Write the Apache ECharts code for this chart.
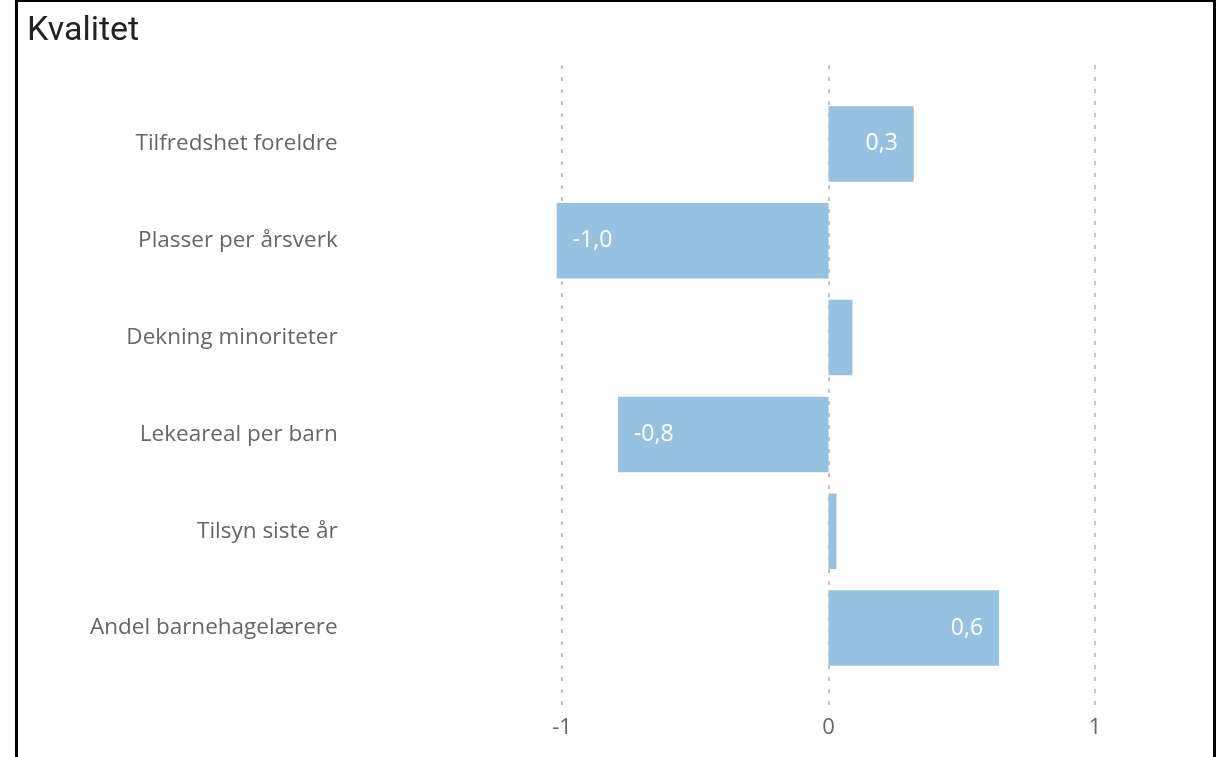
<!DOCTYPE html>
<html><head><meta charset="utf-8">
<script src="https://cdn.jsdelivr.net/npm/echarts@6/dist/echarts.min.js"></script>
<style>html,body{margin:0;padding:0;background:#fff;}#c{width:1226px;height:757px;}</style>
</head><body><div id="c"></div>
<script>
const categories = ['Tilfredshet foreldre','Plasser per årsverk','Dekning minoriteter','Lekeareal per barn','Tilsyn siste år','Andel barnehagelærere'];
const values = [0.32, -1.02, 0.09, -0.79, 0.03, 0.64];
const tickValues = [-1, 0, 1];

const chart = echarts.init(document.getElementById('c'), null, {renderer:'canvas'});
const fmt = v => v.toFixed(1).replace('.', ',');
const barData = values.map(v => ({
  value: v,
  label: {position: v >= 0 ? 'insideRight' : 'insideLeft'}
}));
chart.setOption({
  animation: false,
  title: {text: 'Kvalitet', left: 22, top: 9, textStyle: {fontFamily: 'Roboto', fontSize: 34, fontWeight: 'normal', color: '#222'}},
  graphic: [{type: 'rect', shape: {x: 16.5, y: 0.5, width: 1198, height: 800}, style: {fill: 'none', stroke: '#000', lineWidth: 3}, silent: true, z: 100}],
  grid: [
    {left: 562, right: 131, top: 65, bottom: 52, containLabel: false},
    {left: 508.7, right: 77.7, top: 95.5, bottom: 80.5, containLabel: false}
  ],
  xAxis: [
    {gridIndex: 0, type: 'value', min: tickValues[0], max: tickValues[2], interval: 1,
     axisLine: {show: false}, axisTick: {show: false},
     axisLabel: {fontFamily: 'Open Sans', fontSize: 22, color: '#666', margin: 12},
     splitLine: {show: true, lineStyle: {color: '#c4c4c4', width: 2, type: [4, 8]}}},
    {gridIndex: 1, type: 'value', min: -1.2, max: 1.2, show: false, splitLine: {show: false}}
  ],
  yAxis: [
    {gridIndex: 0, type: 'category', data: categories, show: false},
    {gridIndex: 1, type: 'category', data: categories, inverse: true,
     axisLine: {show: false}, axisTick: {show: false},
     axisLabel: {fontFamily: 'Open Sans', fontSize: 22.5, color: '#666', margin: 171, align: 'right', padding: [9, 0, 0, 0]}}
  ],
  series: [{
    type: 'bar', xAxisIndex: 1, yAxisIndex: 1, data: barData,
    barCategoryGap: '22%',
    itemStyle: {color: '#97c1e1'},
    label: {show: true, color: '#fff', fontFamily: 'Open Sans', fontSize: 23,
      distance: 16, padding: [4, 0, 0, 0],
      formatter: p => Math.abs(p.value) >= 0.2 ? fmt(p.value) : ''}
  }]
});
</script></body></html>
